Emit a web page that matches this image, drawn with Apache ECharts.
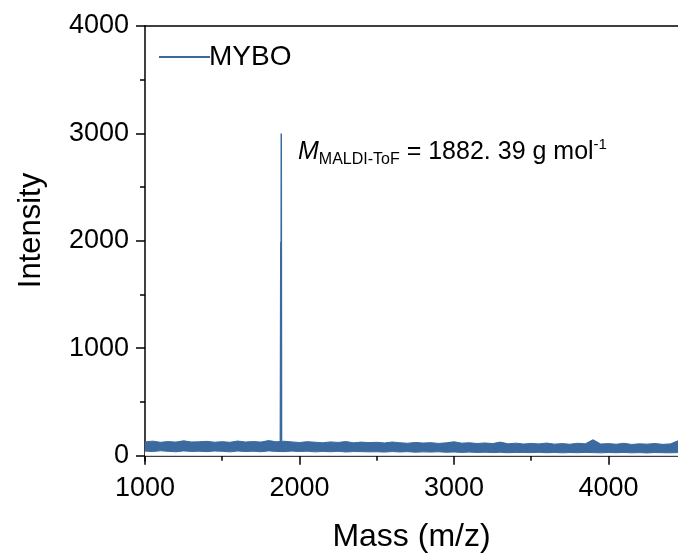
<!DOCTYPE html>
<html>
<head>
<meta charset="utf-8">
<script src="https://cdn.jsdelivr.net/npm/echarts@6/dist/echarts.min.js"></script>
<style>
  html, body { margin: 0; padding: 0; background: #fff; }
  #chart { width: 678px; height: 558px; }
</style>
</head>
<body>
<div id="chart"></div>
<script>
// m/z sampling of the noise band
const massAxis = [
  1000, 1050, 1100, 1150, 1200, 1250, 1300, 1350, 1400, 1450,
  1500, 1550, 1600, 1650, 1700, 1750, 1800, 1850, 1900, 1950,
  2000, 2050, 2100, 2150, 2200, 2250, 2300, 2350, 2400, 2450,
  2500, 2550, 2600, 2650, 2700, 2750, 2800, 2850, 2900, 2950,
  3000, 3050, 3100, 3150, 3200, 3250, 3300, 3350, 3400, 3450,
  3500, 3550, 3600, 3650, 3700, 3750, 3800, 3850, 3900, 3950,
  4000, 4050, 4100, 4150, 4200, 4250, 4300, 4350, 4400, 4450
];
// upper edge of the baseline noise
const bandHigh = [
  128, 135, 124, 131, 126, 138, 127, 129, 133, 125,
  130, 124, 136, 127, 131, 126, 140, 129, 134, 128,
  122, 130, 125, 120, 128, 123, 131, 119, 126, 121,
  124, 118, 127, 120, 115, 123, 117, 121, 114, 119,
  129, 116, 120, 113, 118, 112, 126, 110, 116, 108,
  114, 109, 117, 107, 112, 106, 115, 110, 148, 108,
  112, 106, 115, 104, 110, 107, 113, 105, 109, 138
];
// lower edge of the baseline noise
const bandLow = [
  42, 38, 45, 40, 36, 44, 39, 41, 37, 43,
  40, 35, 43, 38, 41, 36, 44, 39, 37, 42,
  38, 41, 35, 39, 36, 40, 34, 38, 37, 35,
  36, 33, 38, 34, 37, 32, 35, 33, 36, 31,
  34, 30, 33, 29, 32, 28, 31, 27, 30, 29,
  28, 31, 27, 30, 26, 29, 27, 30, 28, 26,
  29, 27, 30, 26, 28, 25, 29, 27, 26, 28
];
// the molecular ion peak
const peakMass = [1860, 1876, 1879, 1880, 1882, 1884, 1900];
const peakIntensity = [85, 110, 1990, 120, 3000, 100, 90];

const xTicks = [1000, 2000, 3000, 4000];
const xMinorTicks = [1500, 2500, 3500];
const yTicks = [0, 1000, 2000, 3000, 4000];
const yMinorTicks = [500, 1500, 2500, 3500];

const seriesColor = "#3a6aa0";
const font = "'Liberation Sans', Arial, sans-serif";
const plain = (v) => String(v);

const chart = echarts.init(document.getElementById("chart"));

const xBase = { type: "value", min: 1000, max: 4450, gridIndex: 0 };
const yBase = { type: "value", min: -50, max: 4000, gridIndex: 0 };

const option = {
  backgroundColor: "#fff",
  animation: false,
  grid: { left: 145, right: 0, top: 26, bottom: 95 },
  legend: {
    data: ["MYBO"],
    left: 159,
    top: 43,
    padding: 0,
    icon: "rect",
    itemWidth: 51,
    itemHeight: 2,
    textStyle: { fontSize: 28, color: "#000", fontFamily: font, padding: [0, 0, 0, -6] },
  },
  xAxis: [
    Object.assign({}, xBase, {
      position: "bottom",
      name: "Mass (m/z)",
      nameLocation: "middle",
      nameGap: 60,
      nameTextStyle: { fontSize: 32, color: "#000", fontFamily: font },
      axisLine: { show: true, lineStyle: { color: "#000", width: 1.5 } },
      axisTick: { show: true, inside: false, length: 9, customValues: xTicks, lineStyle: { color: "#000", width: 1.5 } },
      axisLabel: { customValues: xTicks, formatter: plain, margin: 14, fontSize: 27, color: "#000", fontFamily: font },
      splitLine: { show: false },
    }),
    Object.assign({}, xBase, {
      position: "bottom",
      axisLine: { show: false },
      axisTick: { show: true, inside: false, length: 5, customValues: xMinorTicks, lineStyle: { color: "#000", width: 1.5 } },
      axisLabel: { show: false },
      splitLine: { show: false },
    }),
    Object.assign({}, xBase, {
      position: "top",
      axisLine: { show: true, lineStyle: { color: "#000", width: 1.5 } },
      axisTick: { show: false },
      axisLabel: { show: false },
      splitLine: { show: false },
    }),
  ],
  yAxis: [
    Object.assign({}, yBase, {
      position: "left",
      name: "Intensity",
      nameLocation: "middle",
      nameGap: 98,
      nameTextStyle: { fontSize: 31, color: "#000", fontFamily: font, padding: [0, 0, 0, 26] },
      axisLine: { show: true, lineStyle: { color: "#000", width: 1.5 } },
      axisTick: { show: true, inside: false, length: 9, customValues: yTicks, lineStyle: { color: "#000", width: 1.5 } },
      axisLabel: { customValues: yTicks, formatter: plain, margin: 16, fontSize: 27, color: "#000", fontFamily: font },
      splitLine: { show: false },
    }),
    Object.assign({}, yBase, {
      position: "left",
      axisLine: { show: false },
      axisTick: { show: true, inside: false, length: 5, customValues: yMinorTicks, lineStyle: { color: "#000", width: 1.5 } },
      axisLabel: { show: false },
      splitLine: { show: false },
    }),
  ],
  graphic: [
    {
      type: "text",
      left: 298,
      top: 137,
      z: 100,
      style: {
        text: "{i|M}{sub|MALDI-ToF}{n| = 1882. 39 g mol}{sup|-1}",
        rich: {
          i: { fontSize: 25, fontStyle: "italic", fontFamily: font, fill: "#000", lineHeight: 31 },
          sub: { fontSize: 16, fontFamily: font, fill: "#000", lineHeight: 16, verticalAlign: "bottom" },
          n: { fontSize: 25, fontFamily: font, fill: "#000", lineHeight: 31 },
          sup: { fontSize: 15, fontFamily: font, fill: "#000", lineHeight: 15, verticalAlign: "top" },
        },
      },
    },
  ],
  series: [
    {
      // blue fill from 0 up to the upper noise edge
      name: "bandHigh",
      type: "line",
      symbol: "none",
      xAxisIndex: 0,
      yAxisIndex: 0,
      lineStyle: { color: seriesColor, width: 1 },
      itemStyle: { color: seriesColor },
      areaStyle: { color: seriesColor, opacity: 1, origin: 0 },
      data: massAxis.map((m, i) => [m, bandHigh[i]]),
    },
    {
      // white fill from 0 up to the lower noise edge, leaving the band
      name: "bandLow",
      type: "line",
      symbol: "none",
      xAxisIndex: 0,
      yAxisIndex: 0,
      lineStyle: { color: seriesColor, width: 1 },
      itemStyle: { color: seriesColor },
      areaStyle: { color: "#fff", opacity: 1, origin: 0 },
      data: massAxis.map((m, i) => [m, bandLow[i]]),
    },
    {
      name: "MYBO",
      type: "line",
      symbol: "none",
      xAxisIndex: 0,
      yAxisIndex: 0,
      color: seriesColor,
      lineStyle: { color: seriesColor, width: 1.5 },
      data: peakMass.map((m, i) => [m, peakIntensity[i]]),
    },
  ],
};

chart.setOption(option);
</script>
</body>
</html>
